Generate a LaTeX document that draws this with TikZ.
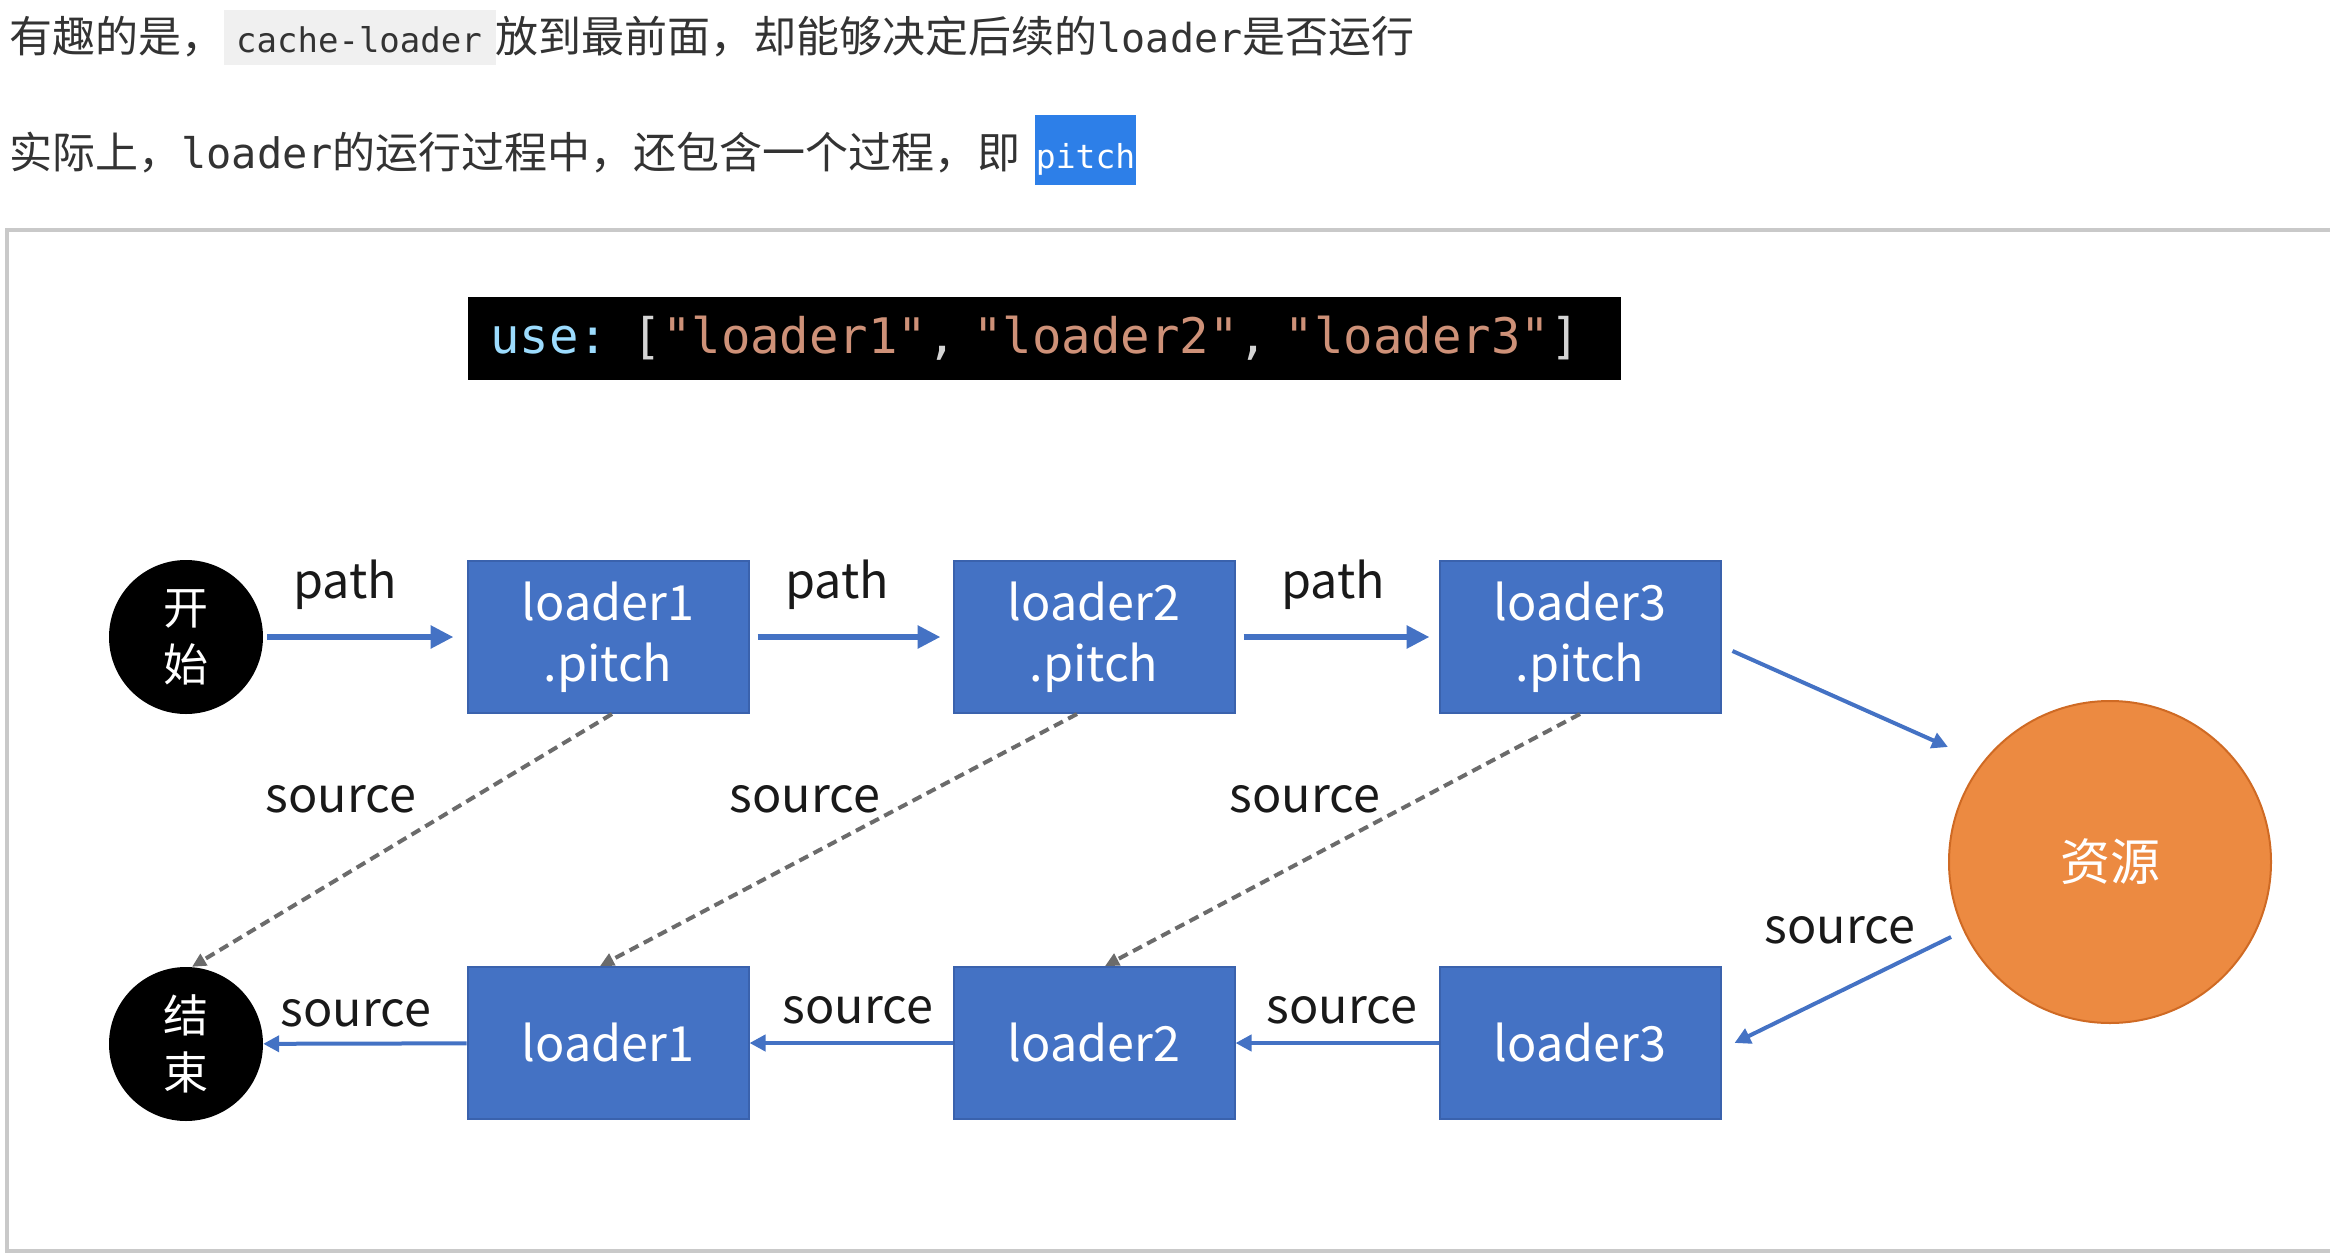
\documentclass[tikz,border=0pt]{standalone}
\usepackage{fontspec}
\setmainfont{Noto Sans CJK SC}
\newfontfamily\codefont{DejaVu Sans Mono}[WordSpace={1,0,0}]
\usepackage{tikz}
\usetikzlibrary{arrows.meta}
\usepackage{xcolor}

\definecolor{textgray}{HTML}{333333}
\definecolor{codebg}{HTML}{F0F0F0}
\definecolor{selblue}{HTML}{2D7FE8}
\definecolor{framegray}{HTML}{C9C9C9}
\definecolor{boxblue}{HTML}{4472C4}
\definecolor{boxline}{HTML}{3A62AD}
\definecolor{resorange}{HTML}{EC8A41}
\definecolor{resline}{HTML}{CF6A24}
\definecolor{dashgray}{HTML}{6B6B6B}
\definecolor{kwblue}{HTML}{9CDCFE}
\definecolor{strorange}{HTML}{CE9178}
\definecolor{punct}{HTML}{D4D4D4}

\newcommand{\inlinecode}[1]{{\setlength{\fboxsep}{0pt}\colorbox{codebg}{\hspace{12pt}\rule[-13pt]{0pt}{55pt}\codefont\fontsize{34}{34}\selectfont #1\hspace{14pt}}}}
\newcommand{\selword}[1]{{\setlength{\fboxsep}{0pt}\colorbox{selblue}{\hspace{1pt}\rule[-17pt]{0pt}{70pt}\color{white}\codefont\fontsize{33}{33}\selectfont #1\hspace{1pt}}}}

\begin{document}
\begin{tikzpicture}[x=1pt,y=-1pt,
	loaderbox/.style={rectangle,fill=boxblue,draw=boxline,line width=2pt,minimum width=281pt,minimum height=152pt,inner sep=0pt,text=white,align=center,font=\fontsize{48.5}{61}\selectfont},
	termnode/.style={circle,fill=black,minimum size=154pt,inner sep=0pt,text=white,align=center,font=\fontsize{45}{57}\selectfont},
	resnode/.style={circle,fill=resorange,draw=resline,line width=2pt,minimum size=322pt,inner sep=0pt,text=white,font=\fontsize{50}{50}\selectfont},
	lbl/.style={inner sep=0pt,text=black!90,font=\fontsize{48.5}{50}\selectfont},
	patharrow/.style={draw=boxblue,line width=6pt,-{Triangle[length=23pt,width=22pt]}},
	sourcearrow/.style={draw=boxblue,line width=4pt,-{Triangle[length=16pt,width=16pt]}},
	dasharrow/.style={draw=dashgray,line width=4pt,dash pattern=on 10pt off 6pt,-{Triangle[length=14pt,width=13pt]}}]
	\useasboundingbox (0,0) rectangle (2330,1258);
	\node[anchor=base west,inner sep=0pt,text=textgray,font=\fontsize{43}{43}\selectfont] (line1) at (9,52) {有趣的是，\inlinecode{cache-loader}放到最前面，却能够决定后续的{\codefont\fontsize{40}{40}\selectfont loader}是否运行};
	\node[anchor=base west,inner sep=0pt,text=textgray,font=\fontsize{43}{43}\selectfont] (line2) at (9,168) {实际上，{\codefont\fontsize{42}{42}\selectfont loader}的运行过程中，还包含一个过程，即\hspace{14pt}\selword{pitch}};
	\draw[framegray,line width=4pt] (2345,230) -- (7,230) -- (7,1251) -- (2345,1251);
	\node[fill=black,text width=1109pt,inner xsep=22pt,inner ysep=0pt,minimum height=83pt,align=left,font=\codefont\fontsize{49}{49}\selectfont] (usebox) at (1044.5,338.5) {\textcolor{kwblue}{use:} \textcolor{punct}{[}\textcolor{strorange}{"loader1"}\textcolor{punct}{,} \textcolor{strorange}{"loader2"}\textcolor{punct}{,} \textcolor{strorange}{"loader3"}\textcolor{punct}{]}};
	\node[termnode] (start) at (186,637) {开\\始};
	\node[termnode] (finish) at (186,1044) {结\\束};
	\foreach \n/\x in {1/608,2/1094,3/1580} {
		\node[loaderbox] (pitch\n) at (\x,637) {loader\n\\.pitch};
		\node[loaderbox] (load\n) at (\x,1043) {loader\n};
	}
	\node[resnode] (res) at (2110,862) {资源};
	\draw[patharrow,shorten <=4pt,shorten >=13pt] (start) -- (pitch1);
	\draw[patharrow,shorten <=8pt,shorten >=12pt] (pitch1) -- (pitch2);
	\draw[patharrow,shorten <=8pt,shorten >=9pt] (pitch2) -- (pitch3);
	\draw[sourcearrow] ([xshift=11pt,yshift=-14pt]pitch3.east) -- ([yshift=115pt]res.west);
	\draw[sourcearrow] ([xshift=3pt,yshift=-75pt]res.west) -- ([xshift=13pt]load3.east);
	\draw[sourcearrow] (load3) -- (load2);
	\draw[sourcearrow] (load2) -- (load1);
	\draw[sourcearrow] (load1) -- (finish);
	\draw[dasharrow] ([xshift=4pt]pitch1.south) -- ([xshift=6pt]finish.north);
	\draw[dasharrow] ([xshift=-17pt]pitch2.south) -- ([xshift=-8pt]load1.north);
	\draw[dasharrow] (pitch3.south) -- ([xshift=11pt]load2.north);
	\node[lbl] (path1) at (345,585) {path};
	\node[lbl] (path2) at (837,585) {path};
	\node[lbl] (path3) at (1333,585) {path};
	\node[lbl] (dsrc1) at (341,799) {source};
	\node[lbl] (dsrc2) at (805,799) {source};
	\node[lbl] (dsrc3) at (1305,799) {source};
	\node[lbl] (rsrc) at (1840,930) {source};
	\node[lbl] (bsrc1) at (356,1013) {source};
	\node[lbl] (bsrc2) at (858,1010) {source};
	\node[lbl] (bsrc3) at (1342,1010) {source};
\end{tikzpicture}
\end{document}
